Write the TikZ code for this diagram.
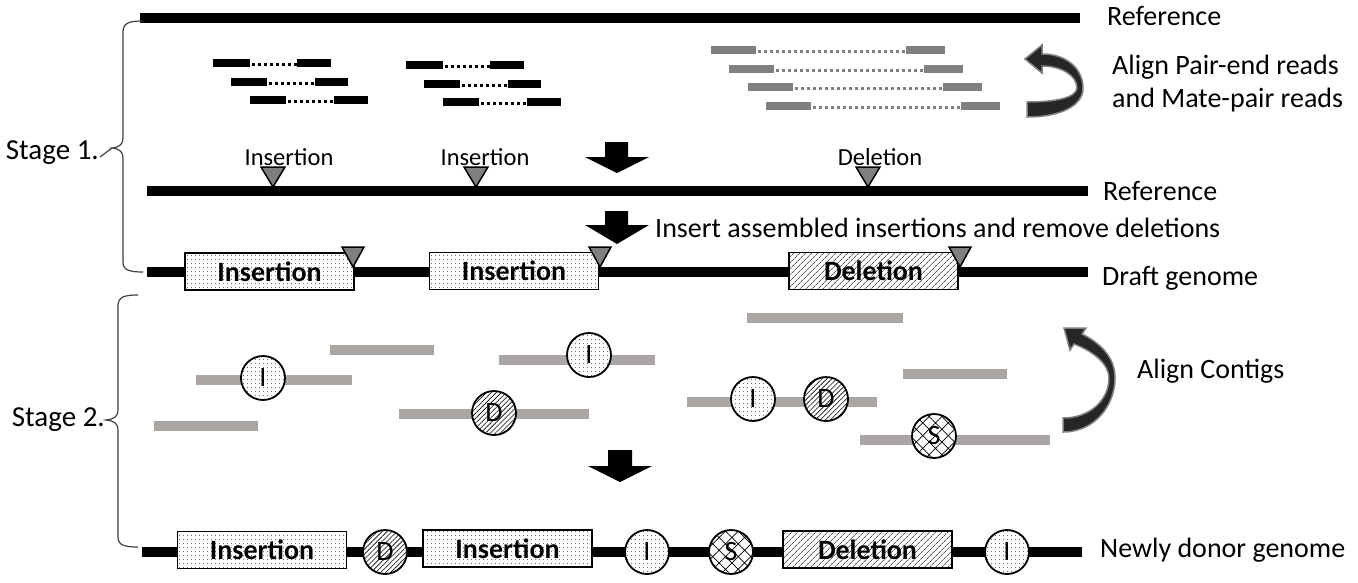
\documentclass[tikz,border=0pt]{standalone}
\usepackage{fontspec}
\setmainfont{Carlito}
\usetikzlibrary{patterns.meta}
\definecolor{contigc}{HTML}{ABA6A4}
\definecolor{readgray}{HTML}{808080}
\definecolor{trigray}{HTML}{7F7F7F}
\definecolor{curvec}{HTML}{262626}
\definecolor{bracec}{HTML}{404040}
\tikzset{
  mainline/.style={line width=10pt, black},
  readbk/.style={line width=8pt, black},
  readgr/.style={line width=8pt, readgray},
  dotlink/.style={line width=3pt, dash pattern=on 3pt off 3pt},
  contig/.style={line width=10pt, contigc},
  lbl/.style={font=\fontsize{28}{32}\selectfont, inner sep=0pt},
  smalllbl/.style={font=\fontsize{24.5}{28}\selectfont, inner sep=0pt},
  stagelbl/.style={font=\fontsize{29}{33}\selectfont, inner sep=0pt},
  boxbase/.style={draw, line width=1.8pt, minimum width=169pt, minimum height=37pt, inner sep=0pt, font=\fontsize{28}{32}\selectfont\bfseries},
  insbox/.style={boxbase, preaction={fill=white}, pattern={Dots[distance=4pt, radius=0.55pt]}},
  delbox/.style={boxbase, preaction={fill=white}, pattern={Lines[angle=45, distance=4pt, line width=0.6pt]}},
  circbase/.style={draw, circle, line width=1.8pt, minimum size=44pt, inner sep=0pt, font=\fontsize{28}{32}\selectfont},
  icirc/.style={circbase, preaction={fill=white}, pattern={Dots[distance=4pt, radius=0.55pt]}},
  dcirc/.style={circbase, preaction={fill=white}, pattern={Lines[angle=45, distance=3.5pt, line width=0.6pt]}},
  scirc/.style={circbase, preaction={fill=white}, pattern={Hatch[angle=45, distance=9pt, line width=0.7pt]}},
  marker/.style={fill=trigray, draw=black, line width=1.5pt, line join=miter},
  bigarrow/.style={fill=black},
  curvarrow/.style={fill=curvec, draw=gray, line width=1.5pt},
  bracepath/.style={draw=bracec, line width=1.2pt},
}
\begin{document}
\begin{tikzpicture}[x=1pt,y=-1pt]
\useasboundingbox (0,0) rectangle (1358,582);
\fill[white] (0,0) rectangle (1358,582);

% ---------- Stage 1 ----------
\draw[mainline] (140,18) -- (1080,18);
\node[lbl, anchor=west] (ref1) at (1107,16) {Reference};

% pair-end reads (black)
\foreach \dx/\dy in {0/0, 193/2} {
  \foreach \a/\b/\c/\d/\y in {213/250/297/331/63, 231/267/315/348/82, 250/286/334/368/100} {
    \draw[readbk] (\a+\dx,\y+\dy) -- (\b+\dx,\y+\dy);
    \draw[readbk] (\c+\dx,\y+\dy) -- (\d+\dx,\y+\dy);
    \draw[dotlink] (\b+\dx+2,\y+\dy+1) -- (\c+\dx,\y+\dy+1);
  }
}
% mate-pair reads (gray)
\foreach \a/\b/\c/\d/\y in {711/756/906/945/50, 729/774/924/963/69, 748/793/943/982/87, 766/811/961/1000/106} {
  \draw[readgr] (\a,\y) -- (\b,\y);
  \draw[readgr] (\c,\y) -- (\d,\y);
  \draw[dotlink, readgray] (\b+2,\y+1) -- (\c,\y+1);
}
% curved arrow (top)
\path[curvarrow] (1042,54) .. controls (1068,54) and (1083,70) .. (1083,88)
  .. controls (1083,106) and (1060,117) .. (1027,117) -- (1027,102)
  .. controls (1055,102) and (1076,98) .. (1077,88)
  .. controls (1077,76) and (1062,66) .. (1042,66) -- (1042,73) -- (1025,59) -- (1042,45) -- cycle;
\node[lbl, anchor=west] (align1) at (1112,67) {Align Pair-end reads};
\node[lbl, anchor=west] (align2) at (1112,100) {and Mate-pair reads};

% stage 1 brace
\coordinate (cusp1) at (112,148);
\path[bracepath] (143,21) .. controls (129,21) and (123,23) .. (123,32) -- (123,138)
  .. controls (123,144) and (120,147) .. (cusp1) .. controls (120,149) and (123,152) .. (123,158)
  -- (123,262) .. controls (123,270) and (129,272) .. (143,272);
\node[stagelbl, anchor=east] (stage1) at (99,153) {Stage 1.};
\draw[bracec, line width=1.2pt] (stage1.east) ++(1pt,-4pt) coordinate (s1e) -- (cusp1);

% reference with markers
\draw[mainline] (147,191) -- (1088,191);
\node[lbl, anchor=west] (ref2) at (1103,191) {Reference};
\foreach \x/\nm in {273/m1, 476/m2, 868/m3} {
  \path[marker] (\x-12,167) -- (\x+12,167) -- (\x,187) -- cycle;
}
\node[smalllbl] (lab1) at (289,157) {Insertion};
\node[smalllbl] (lab2) at (485,157) {Insertion};
\node[smalllbl] (lab3) at (880,157) {Deletion};

% big arrows
\path[bigarrow] (605,142) -- (628,142) -- (628,157) -- (649,157) -- (617,173) -- (585,157) -- (605,157) -- cycle;
\path[bigarrow] (605,211) -- (628,211) -- (628,225) -- (649,225) -- (617,244) -- (585,225) -- (605,225) -- cycle;
\node[lbl, anchor=west] (instext) at (655,228) {Insert assembled insertions and remove deletions};

% draft genome
\draw[mainline] (147,272) -- (1088,272);
\node[insbox] (dins1) at (269.5,271.5) {Insertion};
\node[insbox] (dins2) at (514,271) {Insertion};
\node[delbox] (ddel) at (873.5,271) {Deletion};
\foreach \x in {353, 600, 960} {
  \path[marker] (\x-11,247) -- (\x+11,247) -- (\x,267) -- cycle;
}
\node[lbl, anchor=west] (draft) at (1102,278) {Draft genome};

% ---------- Stage 2 ----------
\draw[contig] (747,318) -- (903,318);
\draw[contig] (330,350) -- (434,350);
\draw[contig] (499,360) -- (655,360);
\draw[contig] (196,380) -- (352,380);
\draw[contig] (903,374) -- (1007,374);
\draw[contig] (687,402) -- (877,402);
\draw[contig] (399,414) -- (589,414);
\draw[contig] (154,426) -- (258,426);
\draw[contig] (860,440) -- (1050,440);
\node[icirc] (c1) at (263,378) {I};
\node[icirc] (c2) at (589,355) {I};
\node[dcirc] (c3) at (494,413) {D};
\node[icirc] (c4) at (753,399) {I};
\node[dcirc] (c5) at (826,399) {D};
\node[scirc] (c6) at (934,436) {S};

% curved arrow (stage 2)
\path[curvarrow] (1082,334) .. controls (1104,345) and (1115,360) .. (1115,378)
  .. controls (1115,405) and (1095,432) .. (1063,432) -- (1063,418)
  .. controls (1090,418) and (1109,400) .. (1109,378)
  .. controls (1109,365) and (1095,352) .. (1074,344) -- (1070,350) -- (1064,328) -- (1086,328) -- cycle;
\node[lbl, anchor=west] (align3) at (1137,371) {Align Contigs};

% stage 2 brace
\coordinate (cusp2) at (106,420);
\path[bracepath] (138,295) .. controls (124,295) and (118,297) .. (118,306) -- (118,410)
  .. controls (118,416) and (115,419) .. (cusp2) .. controls (115,421) and (118,424) .. (118,430)
  -- (118,537) .. controls (118,545) and (124,547) .. (138,547);
\node[stagelbl, anchor=east] (stage2) at (105,420) {Stage 2.};

\path[bigarrow] (608,450) -- (632,450) -- (632,466) -- (652,466) -- (620,482) -- (588,466) -- (608,466) -- cycle;

% newly donor genome
\draw[mainline] (142,552) -- (1082,552);
\node[insbox] (nins1) at (262,550) {Insertion};
\node[dcirc] (nd) at (385,552) {D};
\node[insbox] (nins2) at (507.5,548.5) {Insertion};
\node[icirc] (ni1) at (647,552) {I};
\node[scirc] (ns) at (731,552) {S};
\node[delbox] (ndel) at (867.5,549.5) {Deletion};
\node[icirc] (ni2) at (1007,552) {I};
\node[lbl, anchor=west] (donor) at (1100,550) {Newly donor genome};
\end{tikzpicture}
\end{document}
